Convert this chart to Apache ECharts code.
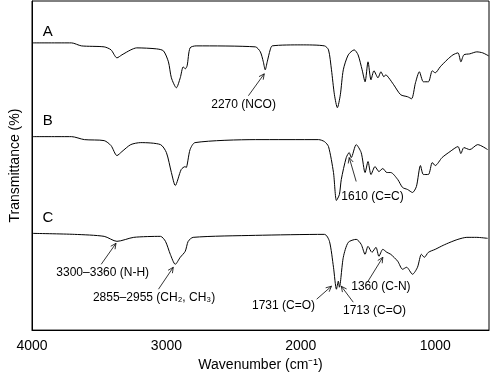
<!DOCTYPE html>
<html>
<head>
<meta charset="utf-8">
<script src="https://cdn.jsdelivr.net/npm/echarts@6/dist/echarts.min.js"></script>
<style>
html,body{margin:0;padding:0;background:#fff;}
#chart{width:490px;height:377px;}
</style>
</head>
<body>
<div id="chart"></div>
<script>
// ---- Data (wavenumber in cm-1, transmittance in arbitrary units, traces offset) ----
const xTicks = [4000, 3000, 2000, 1000];

const wnA = [4000,3706,3632,3463,3412,3368,3331,3265,3221,3074,3022,2985,2963,2926,2897,2875,2860,2846,2824,2779,2338,2301,2279,2265,2250,2228,2213,2000,1824,1794,1772,1750,1728,1706,1684,1647,1603,1574,1544,1522,1500,1478,1456,1426,1404,1382,1368,1346,1309,1257,1206,1176,1147,1118,1088,1051,1022,1000,963,912,868,831,809,787,743,691,647,603];
const trA = [288,288,285,284,281,273,276,281,283,282,280,269,253,243,253,264,262,265,283,285,284,279,269,261,269,281,285,286,285,281,261,236,223,236,261,276,281,276,261,249,269,251,260,253,259,254,256,253,246,236,234,232,248,259,249,249,260,258,264,271,276,278,269,276,277,279,278,275];

const wnB = [4000,3706,3610,3463,3412,3368,3331,3265,3191,3044,3000,2963,2934,2890,2860,2853,2824,2787,2338,1868,1824,1794,1757,1735,1713,1699,1662,1640,1625,1588,1551,1522,1500,1478,1448,1419,1390,1360,1331,1279,1243,1206,1169,1140,1110,1088,1051,1022,1000,949,890,831,809,787,743,684,610];
const trB = [194,194,191,190,185,175,179,186,188,186,178,158,145,161,164,163,181,188,191,191,189,184,158,130,136,151,173,178,173,186,178,158,169,156,164,159,162,158,158,151,143,141,138,144,165,156,156,168,165,173,179,184,177,183,181,186,181];

const wnC = [4000,3684,3463,3368,3243,3044,3007,2971,2934,2897,2860,2838,2801,2338,1824,1787,1757,1735,1721,1713,1684,1647,1588,1551,1522,1500,1471,1441,1419,1390,1360,1331,1279,1243,1213,1169,1132,1103,1081,1051,1000,941,890,831,765,691,610];
const trC = [97,96,94,89,93,94,89,76,66,73,79,89,93,95,96,89,63,41,49,43,73,88,91,86,76,84,78,83,74,81,78,76,69,61,63,56,63,76,73,78,81,85,88,91,93,93,92];

const traceLetters = ['A', 'B', 'C'];
const letterWn = [3882, 3882, 3882];
const letterTr = [299, 210, 113];

const annoText = ['2270 (NCO)', '1610 (C=C)', '3300\u20133360 (N-H)', '2855\u20132955 (CH\u2082, CH\u2083)', '1731 (C=O)', '1713 (C=O)', '1360 (C-N)'];
const annoWn = [2426, 1467, 3474, 3092, 2129, 1452, 1404];
const annoTr = [226, 134, 58, 32, 24, 19, 44];
const arrowFromWn = [2390, 1588, 3485, 3059, 1882, 1610, 1500];
const arrowFromTr = [235, 149, 66, 41, 31, 28, 49];
const arrowToWn = [2272, 1640, 3375, 2949, 1772, 1699, 1390];
const arrowToTr = [257, 173, 87, 63, 44, 44, 73];

// ---- Build ----
const FONT = 'Liberation Sans, Arial, Helvetica, sans-serif';
function zip(a, b) { return a.map((v, i) => [v, b[i]]); }

const lineStyle = { color: '#000', width: 1 };
function traceSeries(name, xs, ys) {
  return {
    name, type: 'line', data: zip(xs, ys), showSymbol: false, symbol: 'none',
    smooth: 0.25, lineStyle, silent: true, animation: false, z: 3
  };
}

const chart = echarts.init(document.getElementById('chart'), null, { renderer: 'canvas' });
chart.setOption({
  animation: false,
  backgroundColor: '#fff',
  grid: { left: 27, right: 1, top: 1, bottom: 46, show: true, borderColor: '#000', borderWidth: 1, backgroundColor: 'transparent' },
  xAxis: {
    type: 'value', inverse: true, min: 600, max: 4000,
    name: 'Wavenumber (cm\u207B\u00B9)', nameLocation: 'middle', nameGap: 27,
    nameTextStyle: { fontFamily: FONT, fontSize: 14, color: '#000' },
    axisLine: { show: true, lineStyle: { color: '#000', width: 1 } },
    axisTick: { show: false, customValues: xTicks },
    axisLabel: { customValues: xTicks, formatter: v => String(v), fontFamily: FONT, fontSize: 14, color: '#000', margin: 9 },
    splitLine: { show: false }
  },
  yAxis: {
    type: 'value', min: 0, max: 330,
    name: 'Transmittance (%)', nameLocation: 'middle', nameGap: 10,
    nameTextStyle: { fontFamily: FONT, fontSize: 14, color: '#000' },
    axisLine: { show: true, lineStyle: { color: '#000', width: 1 } },
    axisTick: { show: false }, axisLabel: { show: false }, splitLine: { show: false }
  },
  series: [
    traceSeries('A', wnA, trA),
    traceSeries('B', wnB, trB),
    traceSeries('C', wnC, trC),
    {
      type: 'custom', silent: true, z: 5,
      data: traceLetters.map((t, i) => [letterWn[i], letterTr[i], i]),
      renderItem: function (params, api) {
        const p = api.coord([api.value(0), api.value(1)]);
        return { type: 'text', x: p[0], y: p[1], style: { text: traceLetters[api.value(2)], font: '15px ' + FONT, fill: '#000', align: 'center', verticalAlign: 'middle' } };
      }
    },
    {
      type: 'custom', silent: true, z: 5,
      data: annoText.map((t, i) => [annoWn[i], annoTr[i], i]),
      renderItem: function (params, api) {
        const p = api.coord([api.value(0), api.value(1)]);
        return { type: 'text', x: p[0], y: p[1], style: { text: annoText[api.value(2)], font: '12px ' + FONT, fill: '#000', align: 'center', verticalAlign: 'middle' } };
      }
    },
    {
      type: 'custom', silent: true, z: 5,
      data: arrowFromWn.map((w, i) => [w, arrowFromTr[i], arrowToWn[i], arrowToTr[i]]),
      renderItem: function (params, api) {
        const a = api.coord([api.value(0), api.value(1)]);
        const b = api.coord([api.value(2), api.value(3)]);
        const ang = Math.atan2(b[1] - a[1], b[0] - a[0]);
        const L = 6, h = 0.45;
        const h1 = [b[0] - L * Math.cos(ang - h), b[1] - L * Math.sin(ang - h)];
        const h2 = [b[0] - L * Math.cos(ang + h), b[1] - L * Math.sin(ang + h)];
        const st = { stroke: '#000', lineWidth: 0.8, fill: null };
        return {
          type: 'group', children: [
            { type: 'line', shape: { x1: a[0], y1: a[1], x2: b[0], y2: b[1] }, style: st },
            { type: 'polyline', shape: { points: [h1, b, h2] }, style: st }
          ]
        };
      }
    }
  ]
});
</script>
</body>
</html>
